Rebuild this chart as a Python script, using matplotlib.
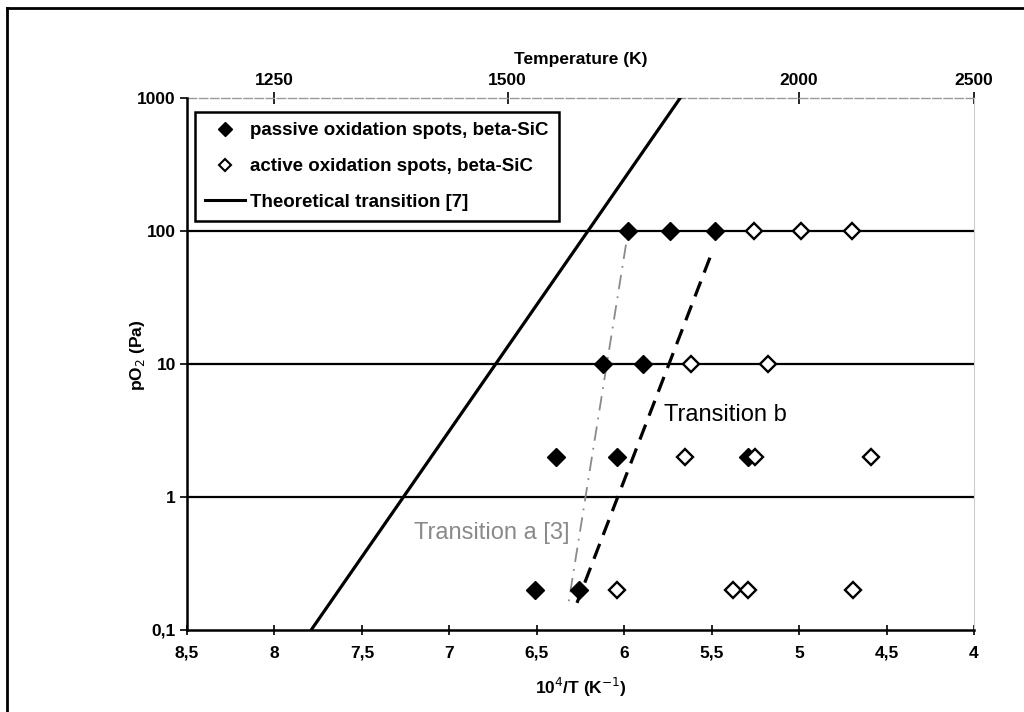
import numpy as np
import matplotlib
matplotlib.use("Agg")
import matplotlib.pyplot as plt
from matplotlib.lines import Line2D

plt.rcParams['font.family'] = ['Liberation Sans', 'DejaVu Sans']

# passive oxidation spots (filled) : 10^4/T, pO2 (Pa)
passive_x = [5.98, 5.74, 5.48, 6.12, 5.89, 6.39, 6.04, 5.29, 6.51, 6.26]
passive_y = [100, 100, 100, 10, 10, 2, 2, 2, 0.2, 0.2]

# active oxidation spots (open)
active_x = [5.26, 4.99, 4.70, 5.62, 5.18, 5.65, 5.25, 4.59, 6.04, 5.38, 5.29, 4.69]
active_y = [100, 100, 100, 10, 10, 2, 2, 2, 0.2, 0.2, 0.2, 0.2]

# theoretical transition [7]
theo_x = [7.79, 5.68]
theo_y = [0.1, 1000]

# transition a [3] and transition b
trans_a_x = [5.99, 6.32]
trans_a_y = [79, 0.155]
trans_b_x = [5.51, 6.27]
trans_b_y = [63, 0.16]

x_ticks = [8.5, 8, 7.5, 7, 6.5, 6, 5.5, 5, 4.5, 4]
x_labels = ['8,5', '8', '7,5', '7', '6,5', '6', '5,5', '5', '4,5', '4']
y_ticks = [0.1, 1, 10, 100, 1000]
y_labels = ['0,1', '1', '10', '100', '1000']
temp_ticks = [1250, 1500, 2000, 2500]

fig = plt.figure(figsize=(10.24, 7.12), dpi=100)
ax = fig.add_axes([187 / 1024, 1 - 630 / 712, 787 / 1024, 532 / 712])

for lvl in [1, 10, 100]:
    ax.axhline(lvl, color='black', lw=1.6, zorder=1)

ax.plot(theo_x, theo_y, color='black', lw=2.3, zorder=2)
ax.plot(trans_b_x, trans_b_y, color='black', lw=2.3, ls=(0, (5, 3)), zorder=2)
ax.plot(trans_a_x, trans_a_y, color='#8a8a8a', lw=1.3, ls=(0, (8, 4, 1, 4)), zorder=2)

ax.plot(passive_x, passive_y, 'D', color='black', ms=9, ls='none', zorder=3)
ax.plot(active_x, active_y, 'D', mfc='white', mec='black', mew=1.7, ms=8,
        ls='none', zorder=3)

ax.text(5.77, 4.1, 'Transition b', fontsize=17, color='black', va='center')
ax.text(7.20, 0.54, 'Transition a [3]', fontsize=17, color='#8a8a8a', va='center')

ax.set_yscale('log')
ax.set_xlim(8.5, 4)
ax.set_ylim(0.1, 1000)
ax.set_xticks(x_ticks)
ax.set_xticklabels(x_labels, fontweight='bold', fontsize=12.5)
ax.set_yticks(y_ticks)
ax.set_yticklabels(y_labels, fontweight='bold', fontsize=12.5)
ax.yaxis.set_minor_locator(matplotlib.ticker.NullLocator())
ax.tick_params(axis='x', direction='inout', length=7, width=1.2, pad=8)
ax.tick_params(axis='y', direction='out', length=5, width=1.2, pad=3)

ax.spines['left'].set_linewidth(1.8)
ax.spines['bottom'].set_linewidth(1.8)
ax.spines['top'].set_visible(False)
ax.spines['right'].set_color('#cccccc')
ax.spines['right'].set_linewidth(0.8)

ax.set_xlabel('10$^4$/T (K$^{-1}$)', fontweight='bold', fontsize=12.5, labelpad=11)
ax.set_ylabel('pO$_2$ (Pa)', fontweight='bold', fontsize=12.5)
ax.yaxis.set_label_coords(-0.051, 0.517)

top = ax.secondary_xaxis('top', functions=(lambda x: 1e4 / x, lambda t: 1e4 / t))
top.set_xticks(temp_ticks)
top.set_xticklabels([str(t) for t in temp_ticks], fontweight='bold', fontsize=12.5)
top.tick_params(direction='inout', length=9, width=1.2, pad=3)
top.spines['top'].set_color('#999999')
top.spines['top'].set_linewidth(1.0)
top.spines['top'].set_linestyle((0, (6, 2)))
top.set_xlabel('Temperature (K)', fontweight='bold', fontsize=12.5, labelpad=6)

handles = [
    Line2D([], [], marker='D', color='black', ls='none', ms=7),
    Line2D([], [], marker='D', mfc='white', mec='black', mew=1.5, ls='none', ms=6.5),
    Line2D([], [], color='black', lw=2.2),
]
labels = ['passive oxidation spots, beta-SiC',
          'active oxidation spots, beta-SiC',
          'Theoretical transition [7]']
leg = ax.legend(handles, labels, loc='upper left', bbox_to_anchor=(0.010, 0.974),
                prop={'weight': 'bold', 'size': 13.5}, fancybox=False,
                edgecolor='black', framealpha=1, borderpad=0.55, labelspacing=1.0,
                handlelength=2.1, handletextpad=0.3, borderaxespad=0)
leg.get_frame().set_linewidth(1.8)

# outer frame (left and top edges visible)
fig.add_artist(Line2D([7 / 1024, 7 / 1024], [0, 1 - 8 / 712], transform=fig.transFigure,
                      color='black', lw=2))
fig.add_artist(Line2D([7 / 1024, 1], [1 - 8 / 712, 1 - 8 / 712], transform=fig.transFigure,
                      color='black', lw=2))

fig.savefig('out.png', dpi=100)
